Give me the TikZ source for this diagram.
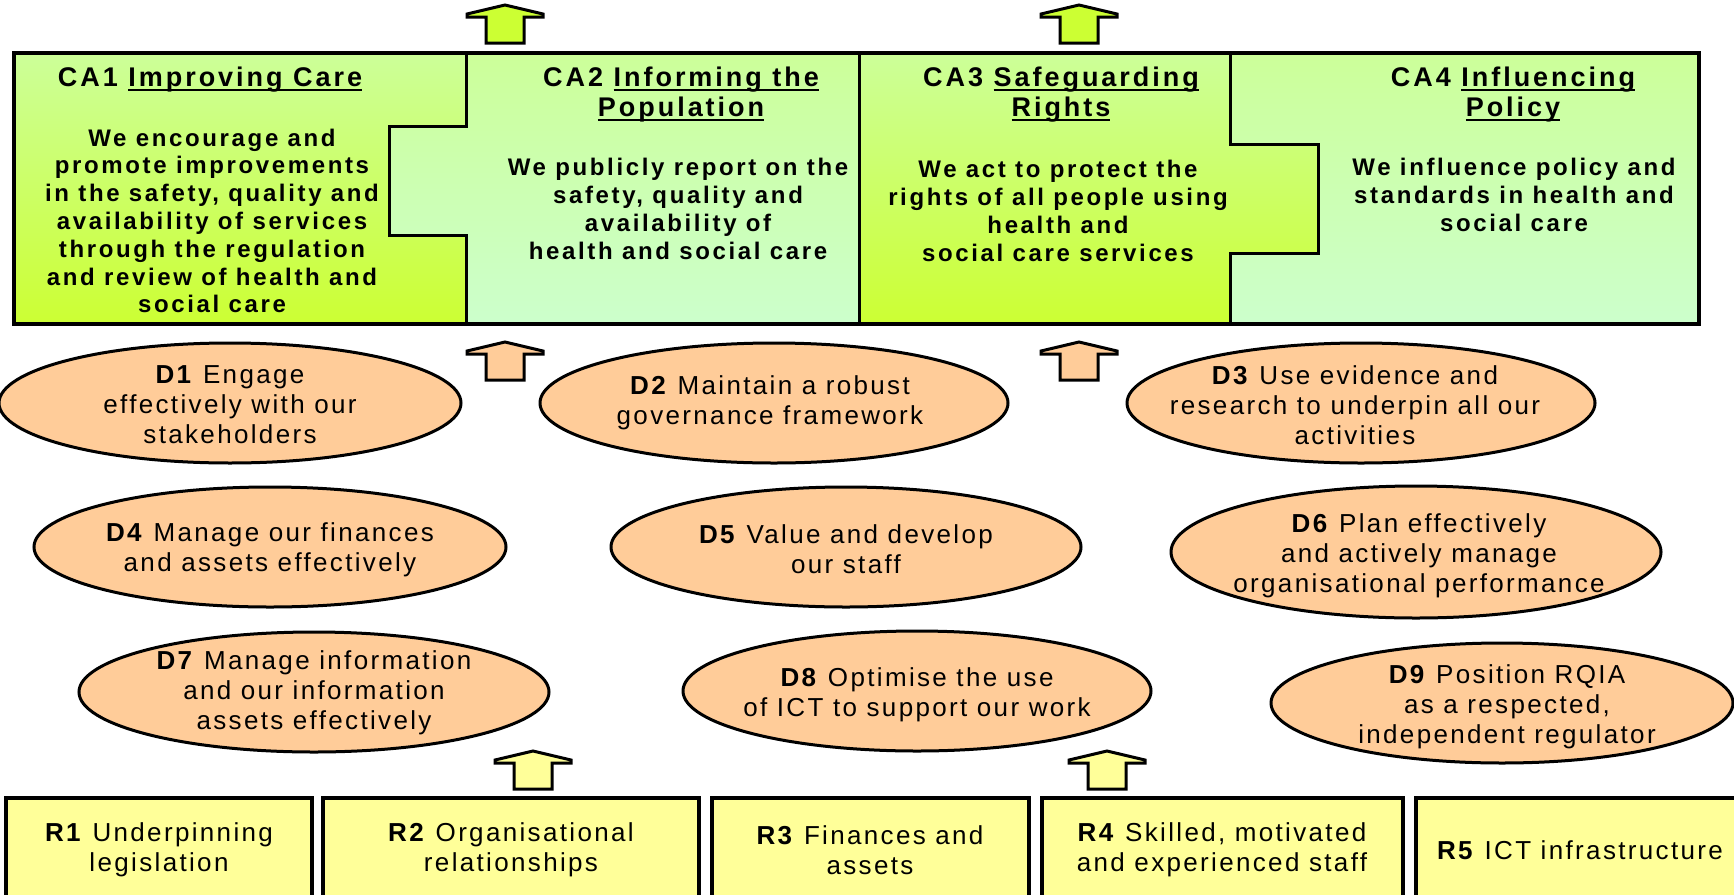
\documentclass[tikz,border=0pt]{standalone}
\usepackage{fontspec}
\setmainfont{Liberation Sans}[LetterSpace=9]
\newfontfamily\cabold{Liberation Sans}[LetterSpace=11]
\usetikzlibrary{shapes.geometric}
\definecolor{peach}{HTML}{FFCC99}
\definecolor{lyellow}{HTML}{FFFF99}
\definecolor{ygreen}{HTML}{CCFF33}
\definecolor{lgreen}{HTML}{CCFF99}
\definecolor{mint}{HTML}{CCFFCC}
\newcommand\ulx[1]{\setbox0\hbox{#1}\rlap{\rule[-4.5pt]{\wd0}{2.6pt}}\box0}
\newcommand\bkarrow[3]{%
  \filldraw[fill=#3, draw=black, line width=3pt, line join=miter]
    (#1,#2) -- ++(38,9) -- ++(0,3) -- ++(-19,0) -- ++(0,26) -- ++(-38,0)
    -- ++(0,-26) -- ++(-19,0) -- ++(0,-3) -- cycle;}
\tikzset{
  catitle/.style={align=center, inner sep=0pt, font=\cabold\bfseries\fontsize{27}{30}\selectfont},
  cabody/.style={align=center, inner sep=0pt, font=\cabold\bfseries\fontsize{24}{27.8}\selectfont},
  dell/.style={ellipse, draw=black, line width=3pt, fill=peach, inner sep=0pt},
  dtext/.style={align=center, inner sep=0pt, font=\fontsize{26}{30}\selectfont},
  rbox/.style={rectangle, draw=black, line width=4pt, fill=lyellow, inner sep=0pt,
    minimum height=104pt, align=center, font=\fontsize{26}{30}\selectfont},
  caline/.style={draw=black, line width=3pt, line join=miter},
}
\begin{document}
\begin{tikzpicture}[x=1pt,y=-1pt]
\useasboundingbox (0,0) rectangle (1734,894);
\clip (0,0) rectangle (1734,894);
\fill[white] (0,0) rectangle (1734,894);

% top arrows
\bkarrow{505}{5}{ygreen}
\bkarrow{1079}{5}{ygreen}

% CA regions
\shade[top color=lgreen, bottom color=ygreen]
  (14,53) -- (466,53) -- (466,126) -- (389,126) -- (389,235) -- (466,235) -- (466,324) -- (14,324) -- cycle;
\shade[top color=lgreen, bottom color=mint]
  (466,53) -- (859,53) -- (859,324) -- (466,324) -- (466,235) -- (389,235) -- (389,126) -- (466,126) -- cycle;
\shade[top color=lgreen, bottom color=ygreen]
  (859,53) -- (1230,53) -- (1230,144) -- (1318,144) -- (1318,253) -- (1230,253) -- (1230,324) -- (859,324) -- cycle;
\shade[top color=lgreen, bottom color=mint]
  (1230,53) -- (1699,53) -- (1699,324) -- (1230,324) -- (1230,253) -- (1318,253) -- (1318,144) -- (1230,144) -- cycle;
\draw[caline] (466,53) -- (466,126) -- (389,126) -- (389,235) -- (466,235) -- (466,324);
\draw[caline] (859,53) -- (859,324);
\draw[caline] (1230,53) -- (1230,144) -- (1318,144) -- (1318,253) -- (1230,253) -- (1230,324);
\draw[black, line width=4pt, line join=miter] (14,53) rectangle (1699,324);

% CA texts
\node[catitle] (ca1t) at (210,80) {CA1 \ulx{Improving Care}};
\node[cabody] (ca1b) at (212,221) {We encourage and\\promote improvements\\in the safety, quality and\\availability of services\\through the regulation\\and review of health and\\social care};
\node[catitle] (ca2t) at (681,95) {CA2 \ulx{Informing the}\\\ulx{Population}};
\node[cabody] (ca2b) at (678,209) {We publicly report on the\\safety, quality and\\availability of\\health and social care};
\node[catitle] (ca3t) at (1061,95) {CA3 \ulx{Safeguarding}\\\ulx{Rights}};
\node[cabody] (ca3b) at (1058,211) {We act to protect the\\rights of all people using\\health and\\social care services};
\node[catitle] (ca4t) at (1513,95) {CA4 \ulx{Influencing}\\\ulx{Policy}};
\node[cabody] (ca4b) at (1514,195) {We influence policy and\\standards in health and\\social care};

% middle arrows
\bkarrow{505}{342}{peach}
\bkarrow{1079}{342}{peach}

% ellipses
\node[dell, minimum width=462pt, minimum height=120pt] (d1) at (230,403) {};
\node[dell, minimum width=468pt, minimum height=120pt] (d2) at (774,403) {};
\node[dell, minimum width=468pt, minimum height=120pt] (d3) at (1361,403) {};
\node[dell, minimum width=472pt, minimum height=120pt] (d4) at (270,547) {};
\node[dell, minimum width=470pt, minimum height=120pt] (d5) at (846,547) {};
\node[dell, minimum width=490pt, minimum height=132pt] (d6) at (1416,552) {};
\node[dell, minimum width=470pt, minimum height=120pt] (d7) at (314,692) {};
\node[dell, minimum width=468pt, minimum height=120pt] (d8) at (917,691) {};
\node[dell, minimum width=462pt, minimum height=120pt] (d9) at (1502,703) {};

\node[dtext] (d1t) at (230,405) {\textbf{D1} Engage\\effectively with our\\stakeholders};
\node[dtext] (d2t) at (770,403) {\textbf{D2} Maintain a robust\\governance framework};
\node[dtext] (d3t) at (1355,405) {\textbf{D3} Use evidence and\\research to underpin all our\\activities};
\node[dtext] (d4t) at (270,550) {\textbf{D4} Manage our finances\\and assets effectively};
\node[dtext] (d5t) at (846,549) {\textbf{D5} Value and develop\\our staff};
\node[dtext] (d6t) at (1419,556) {\textbf{D6} Plan effectively\\and actively manage\\organisational performance};
\node[dtext] (d7t) at (314,693) {\textbf{D7} Manage information\\and our information\\assets effectively};
\node[dtext] (d8t) at (917,695) {\textbf{D8} Optimise the use\\of ICT to support our work};
\node[dtext] (d9t) at (1507,707) {\textbf{D9} Position RQIA\\as a respected,\\independent regulator};

% bottom arrows
\bkarrow{533}{751}{lyellow}
\bkarrow{1107}{751}{lyellow}

% resources
\node[rbox, minimum width=306pt] (r1) at (159,850) {\textbf{R1} Underpinning\\legislation};
\node[rbox, minimum width=376pt] (r2) at (511,850) {\textbf{R2} Organisational\\relationships};
\node[rbox, minimum width=317pt] (r3) at (870,850) {\textbf{R3} Finances and\\assets};
\node[rbox, minimum width=361pt] (r4) at (1222,850) {\textbf{R4} Skilled, motivated\\and experienced staff};
\node[rbox, minimum width=329pt] (r5) at (1580,850) {\textbf{R5} ICT infrastructure};
\end{tikzpicture}
\end{document}
